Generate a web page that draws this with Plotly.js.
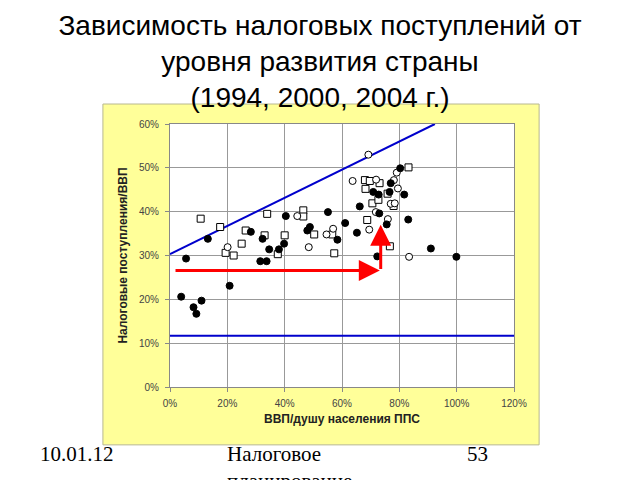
<!DOCTYPE html>
<html>
<head>
<meta charset="utf-8">
<script src="https://cdn.plot.ly/plotly-3.0.1.min.js"></script>
<style>
  body { margin: 0; background: #fff; }
  #chart { width: 640px; height: 480px; }
</style>
</head>
<body>
<div id="chart"></div>
<script>
'use strict'

// data (percent)

const filled_x = [5.6, 3.9, 8.2, 9.2, 11.0, 13.2, 20.8, 28.2, 31.5, 33.7, 32.3, 34.6, 38.0, 39.8, 40.4, 47.9, 48.8,
  55.1, 58.4, 61.1, 65.2, 66.2, 70.9, 72.8, 73.0, 72.3, 75.6, 76.6, 77.0, 80.3, 81.7, 83.1, 91.0, 99.9]
const filled_y = [29.3, 20.6, 18.2, 16.7, 19.7, 33.8, 23.1, 35.4, 28.7, 28.7, 33.8, 31.4, 31.4, 32.7, 39.0, 35.7, 36.5,
  39.9, 33.6, 37.4, 35.2, 41.2, 44.5, 43.9, 39.6, 29.8, 37.1, 44.5, 46.5, 49.9, 43.9, 38.2, 31.6, 29.7]

const square_x = [10.7, 17.5, 19.4, 22.2, 25.0, 26.4, 33.0, 33.9, 37.6, 40.0, 46.5, 46.5, 50.3, 56.6, 57.3,
  68.0, 68.2, 69.7, 68.8, 70.6, 72.7, 73.1, 75.9, 78.0, 76.7, 83.2]
const square_y = [38.4, 36.5, 30.6, 30.0, 32.7, 35.7, 34.6, 39.5, 30.3, 34.6, 40.3, 38.9, 34.8, 34.8, 30.5,
  47.2, 45.2, 47.0, 38.1, 41.9, 42.7, 46.5, 44.1, 41.3, 32.1, 50.1]

const circle_x = [20.1, 44.4, 48.4, 54.6, 56.9, 63.7, 69.2, 69.5, 71.9, 71.8, 76.0, 77.0, 78.4, 78.1, 79.1, 79.5, 83.4]
const circle_y = [31.9, 39.0, 31.9, 34.8, 36.1, 47.0, 53.0, 35.9, 47.3, 39.9, 38.3, 41.8, 41.9, 47.2, 48.9, 45.3, 29.7]

// bounding lines
const upper_x = [0, 92.4]
const upper_y = [30.3, 60]
const lower_x = [0, 120.5]
const lower_y = [11.7, 11.7]

// red arrows: [from_x, from_y, to_x, to_y]
const arrow_right = [1.4, 26.6, 73.2, 26.6]
const arrow_up = [73.5, 26.6, 73.5, 37.0]

const x_ticks = [0, 20, 40, 60, 80, 100, 120]
const y_ticks = [0, 10, 20, 30, 40, 50, 60]

const title_text = 'Зависимость налоговых поступлений от<br>уровня развития страны<br>(1994, 2000, 2004 г.)'
const y_title = 'Налоговые поступления/ВВП'
const x_title = 'ВВП/душу населения ППС'
const footer = { date: '10.01.12', topic: 'Налоговое<br>планирование', page: '53' }

///////////////////////////////////////////////////////

const pct = v => v + '%'

const sans = '"Liberation Sans", Arial, sans-serif'
const marker_base = { size: 7, line: { color: '#000', width: 1 } }

const traces = [
  {
    type: 'scatter', mode: 'lines', x: upper_x, y: upper_y,
    line: { color: '#0000cc', width: 2 }, hoverinfo: 'skip'
  },
  {
    type: 'scatter', mode: 'lines', x: lower_x, y: lower_y,
    line: { color: '#0000cc', width: 2 }, hoverinfo: 'skip'
  },
  {
    type: 'scatter', mode: 'markers', x: square_x, y: square_y,
    marker: Object.assign({ symbol: 'square', color: '#fff' }, marker_base)
  },
  {
    type: 'scatter', mode: 'markers', x: circle_x, y: circle_y,
    marker: Object.assign({ symbol: 'circle', color: '#fff' }, marker_base)
  },
  {
    type: 'scatter', mode: 'markers', x: filled_x, y: filled_y,
    marker: Object.assign({ symbol: 'circle', color: '#000' }, marker_base)
  }
]

const arrow = a => ({
  x: a[2], y: a[3], ax: a[0], ay: a[1],
  xref: 'x', yref: 'y', axref: 'x', ayref: 'y',
  text: '', showarrow: true,
  arrowhead: 2, arrowsize: 1.4, arrowwidth: 3, arrowcolor: '#ff0000'
})

const serif = { family: '"Liberation Serif", "Times New Roman", serif', size: 21, color: '#000' }

const axis_common = {
  ticks: 'outside', ticklen: 4, tickcolor: '#888',
  showgrid: true, gridcolor: '#999', gridwidth: 1,
  showline: true, linecolor: '#888', mirror: true, zeroline: false,
  tickfont: { family: sans, size: 10, color: '#444' }
}

const layout = {
  width: 640,
  height: 480,
  margin: { l: 170, r: 126, t: 124, b: 93 },
  paper_bgcolor: '#fff',
  plot_bgcolor: 'rgba(0,0,0,0)',
  showlegend: false,
  title: {
    text: title_text,
    font: { family: sans, size: 28, color: '#000' },
    x: 0.5, xref: 'container', y: 0.928, yref: 'container', yanchor: 'top'
  },
  xaxis: Object.assign({
    range: [0, 120],
    tickvals: x_ticks, ticktext: x_ticks.map(pct),
    ticklabelstandoff: 3,
    title: { text: x_title, font: { family: sans, size: 12, color: '#222', weight: 'bold' }, standoff: 6 }
  }, axis_common),
  yaxis: Object.assign({
    range: [0, 60],
    tickvals: y_ticks, ticktext: y_ticks.map(pct),
    ticklabelstandoff: 4,
    title: { text: y_title, font: { family: sans, size: 12, color: '#222', weight: 'bold' }, standoff: 8 }
  }, axis_common),
  shapes: [
    // yellow chart box and white plot area
    { type: 'rect', xref: 'paper', yref: 'paper', x0: -0.195, x1: 1.073, y0: -0.220, y1: 1.076,
      fillcolor: '#ffff99', line: { color: '#b8b890', width: 1 }, layer: 'below' },
    { type: 'rect', xref: 'paper', yref: 'paper', x0: 0, x1: 1, y0: 0, y1: 1,
      fillcolor: '#fff', line: { width: 0 }, layer: 'below' }
  ],
  annotations: [
    arrow(arrow_right),
    arrow(arrow_up),
    { xref: 'paper', yref: 'paper', x: -0.385, y: -0.202, xanchor: 'left', yanchor: 'top',
      text: footer.date, showarrow: false, font: serif },
    { xref: 'paper', yref: 'paper', x: 0.159, y: -0.202, xanchor: 'left', yanchor: 'top', align: 'left',
      text: footer.topic, showarrow: false, font: serif },
    { xref: 'paper', yref: 'paper', x: 0.857, y: -0.202, xanchor: 'left', yanchor: 'top',
      text: footer.page, showarrow: false, font: serif }
  ]
}

Plotly.newPlot('chart', traces, layout, { displayModeBar: false, staticPlot: true })
</script>
</body>
</html>
